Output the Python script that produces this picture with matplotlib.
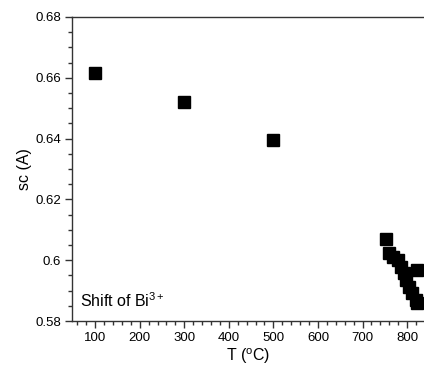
import matplotlib
matplotlib.use("Agg")
import matplotlib.pyplot as plt
from matplotlib.ticker import MultipleLocator

plt.rcParams['font.family'] = ['Liberation Sans', 'DejaVu Sans']
plt.rcParams['mathtext.fontset'] = 'custom'
plt.rcParams['mathtext.rm'] = 'Liberation Sans'
plt.rcParams['mathtext.it'] = 'Liberation Sans:italic'

# Data
temperature = [100, 300, 500, 752, 759, 769, 779, 787, 793, 798, 804, 811, 819, 822, 822]
sc = [0.6616, 0.6521, 0.6397, 0.6071, 0.6023, 0.6012, 0.6001, 0.5979, 0.5958,
      0.5935, 0.5913, 0.5892, 0.5870, 0.5859, 0.5968]

fig = plt.figure(figsize=(4.24, 3.73), dpi=100)
ax = fig.add_axes([72/424, 52/373, 1 - 72/424, 304/373])
ax.plot(temperature, sc, 's', color='black', markersize=9, linestyle='none')

ax.set_xlim(48, 838)
ax.set_ylim(0.58, 0.68)
ax.xaxis.set_minor_locator(MultipleLocator(20))
ax.yaxis.set_minor_locator(MultipleLocator(0.005))
ax.set_yticks([0.58, 0.6, 0.62, 0.64, 0.66, 0.68])
ax.set_yticklabels(['0.58', '0.6', '0.62', '0.64', '0.66', '0.68'])
ax.set_xticks([100, 200, 300, 400, 500, 600, 700, 800])

for s in ['left', 'bottom', 'top']:
    ax.spines[s].set_color('#333333')
    ax.spines[s].set_linewidth(1.0)
ax.spines['right'].set_visible(False)

ax.tick_params(which='major', direction='out', length=5, width=1, color='#333333',
               labelsize=9.5, top=False, right=False, pad=3)
ax.tick_params(which='minor', direction='out', length=3, width=1, color='#333333',
               top=False, right=False)

ax.set_xlabel(r'T ($^{\mathrm{o}}$C)', fontsize=11.5, labelpad=2)
ax.set_ylabel('sc (A)', fontsize=11.5, labelpad=2)

ax.text(8/352, 14/304, r'Shift of Bi$^{3+}$', fontsize=11.5, transform=ax.transAxes,
        ha='left', va='baseline')

fig.savefig('out.png', dpi=100)
